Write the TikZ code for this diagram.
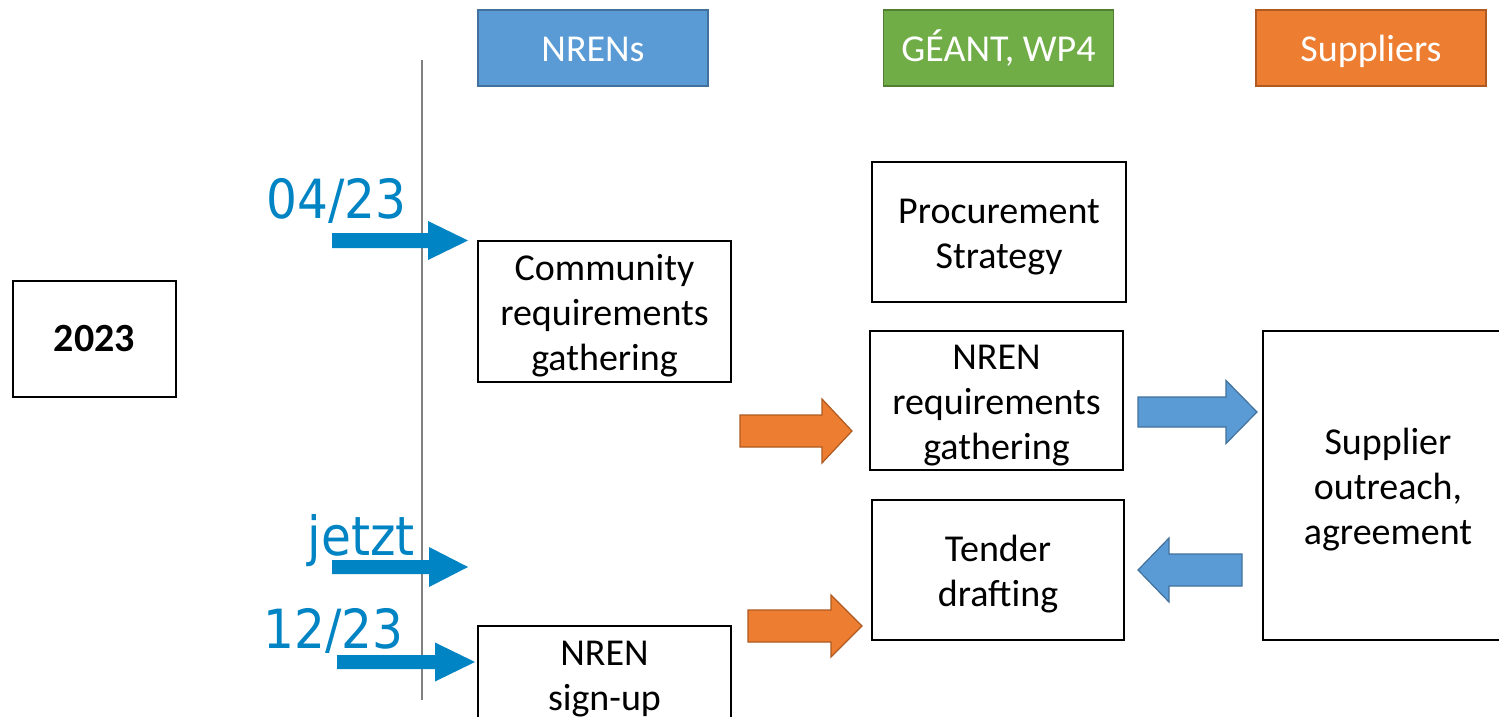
\documentclass[tikz,border=0pt]{standalone}
\usepackage{fontspec}
\setmainfont{Carlito}
\newfontfamily\datefont{DejaVu Sans Condensed}
\definecolor{nrenblue}{RGB}{91,155,213}
\definecolor{nrenblueline}{RGB}{65,113,156}
\definecolor{geantgreen}{RGB}{112,173,71}
\definecolor{geantgreenline}{RGB}{80,126,50}
\definecolor{supporange}{RGB}{237,125,49}
\definecolor{supporangeline}{RGB}{174,90,33}
\definecolor{datecol}{RGB}{0,132,195}
% strut for the first line of a task box
\newcommand\topline{\rule{0pt}{17.5pt}}
% block arrow: style, base x, neck x, tip x, y, half shaft, half head
\newcommand\blockarrow[7]{%
  \filldraw[#1] (#2,#5-#6) -- (#3,#5-#6) -- (#3,#5-#7) -- (#4,#5)
    -- (#3,#5+#7) -- (#3,#5+#6) -- (#2,#5+#6) -- cycle;}

\begin{document}
\begin{tikzpicture}[x=0.5pt, y=-0.5pt,
    yearbox/.style={draw, line width=1pt, inner sep=0pt,
      font=\fontsize{20}{24}\selectfont\bfseries},
    taskbox/.style={draw, line width=1pt, align=center, inner sep=0pt,
      font=\fontsize{19}{22.5}\selectfont},
    headbox/.style={line width=0.8pt, text=white, inner sep=0pt,
      minimum width=115pt, minimum height=38pt,
      text height=14pt, text depth=0pt,
      font=\fontsize{19}{22.5}\selectfont},
    datelabel/.style={text=datecol, inner sep=0pt, anchor=base east,
      font=\datefont\fontsize{27}{32}\selectfont},
    datearrow/.style={fill=datecol, draw=none},
    bluearrow/.style={fill=nrenblue, draw=nrenblueline, line width=0.6pt},
    orangearrow/.style={fill=supporange, draw=supporangeline, line width=0.6pt}]
  \fill[white] (0,0) rectangle (1499,717);
  \clip (0,0) rectangle (1499,717);

  % year
  \node[yearbox, minimum width=81.5pt, minimum height=58pt] (year) at (94.5,339) {2023};

  % timeline
  \coordinate (tltop) at (422,60);
  \coordinate (tlbot) at (422,700);
  \draw[gray, line width=0.6pt] (tltop) -- (tlbot);

  % column heads
  \node[headbox, fill=nrenblue, draw=nrenblueline] (nrens) at (593,48) {NRENs};
  \node[headbox, fill=geantgreen, draw=geantgreenline] (geant) at (998.5,48) {GÉANT, WP4};
  \node[headbox, fill=supporange, draw=supporangeline] (suppliers) at (1371,48) {Suppliers};

  % tasks
  \node[taskbox, minimum width=127pt, minimum height=70pt] (strategy) at (999,232)
    {\topline Procurement\\Strategy};
  \node[taskbox, minimum width=126.5pt, minimum height=70.5pt] (community) at (604.5,311.5)
    {\topline Community\\requirements\\gathering};
  \node[taskbox, minimum width=126.5pt, minimum height=69.5pt] (nrenreq) at (996.5,400.5)
    {\topline NREN\\requirements\\gathering};
  \node[taskbox, minimum width=126pt, minimum height=70pt] (tender) at (998,570)
    {\topline Tender\\drafting};
  \node[taskbox, minimum width=125pt, minimum height=154.5pt] (outreach) at (1388,485.5)
    {\topline Supplier\\outreach,\\agreement};
  \node[taskbox, minimum width=126.5pt, minimum height=48pt] (signup) at (604.5,674)
    {\topline NREN\\sign-up};

  % dates
  \node[datelabel] (d0423) at (407,218) {04/23};
  \node[datelabel] (djetzt) at (415,555) {jetzt};
  \node[datelabel] (d1223) at (404,648) {12/23};
  \blockarrow{datearrow}{332}{428}{468}{240.5}{7.5}{19.5}
  \blockarrow{datearrow}{332}{429}{468}{567}{7}{20}
  \blockarrow{datearrow}{337}{435}{475}{662}{7}{19.5}

  % flow
  \blockarrow{orangearrow}{740}{822}{852}{431}{16}{32}
  \blockarrow{orangearrow}{748}{831}{862}{626}{16}{31}
  \blockarrow{bluearrow}{1138}{1226}{1257}{412}{15}{31.5}
  \blockarrow{bluearrow}{1242}{1169}{1138}{570}{16}{32}
\end{tikzpicture}
\end{document}
